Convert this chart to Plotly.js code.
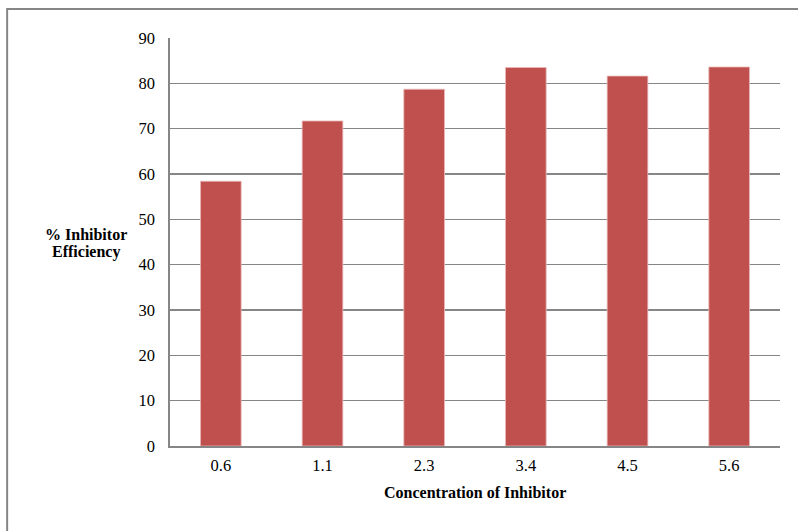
<!DOCTYPE html>
<html>
<head>
<meta charset="utf-8">
<script src="https://cdn.plot.ly/plotly-3.0.1.min.js"></script>
<style>
  html, body { margin: 0; padding: 0; background: #fff; }
  #chart { width: 798px; height: 531px; }
</style>
</head>
<body>
<div id="chart"></div>
<script>
// Inhibitor concentration vs. % inhibition efficiency
const concentrations = ['0.6', '1.1', '2.3', '3.4', '4.5', '5.6'];
const efficiency = [58.4, 71.7, 78.7, 83.5, 81.6, 83.6];
const yTicks = [0, 10, 20, 30, 40, 50, 60, 70, 80, 90];

const serif = '"Liberation Serif", "Times New Roman", serif';
const gridGray = '#868686';

const trace = {
  type: 'bar',
  x: concentrations,
  y: efficiency,
  width: 0.4,
  marker: { color: '#C0504D', line: { color: '#e8b9b7', width: 0.8 } },
  hoverinfo: 'x+y'
};

const titleFont = { family: serif, size: 16, color: '#000' };

const layout = {
  width: 798,
  height: 531,
  margin: { l: 170, r: 18, t: 38, b: 85 },
  paper_bgcolor: '#ffffff',
  plot_bgcolor: '#ffffff',
  showlegend: false,
  font: { family: serif, size: 16.5, color: '#000' },
  xaxis: {
    type: 'category',
    showgrid: false,
    showline: true,
    linecolor: gridGray,
    linewidth: 1.6,
    ticks: '',
    ticklabelstandoff: 4,
    tickfont: { family: serif, size: 16.5, color: '#000' },
    zeroline: false
  },
  yaxis: {
    range: [0, 90],
    tickvals: yTicks,
    showgrid: true,
    gridcolor: gridGray,
    gridwidth: 1.6,
    showline: true,
    linecolor: gridGray,
    linewidth: 1.6,
    ticks: '',
    ticklabelstandoff: 10,
    tickfont: { family: serif, size: 16.5, color: '#000' },
    zeroline: false
  },
  annotations: [
    // y-axis title, two lines set close together
    {
      xref: 'paper', yref: 'paper',
      x: -0.137, y: 0.518,
      xanchor: 'center', yanchor: 'middle',
      showarrow: false,
      text: '<b>% Inhibitor</b>',
      font: titleFont
    },
    {
      xref: 'paper', yref: 'paper',
      x: -0.137, y: 0.475,
      xanchor: 'center', yanchor: 'middle',
      showarrow: false,
      text: '<b>Efficiency</b>',
      font: titleFont
    },
    {
      xref: 'paper', yref: 'paper',
      x: 0.5, y: -0.115,
      xanchor: 'center', yanchor: 'middle',
      showarrow: false,
      text: '<b>Concentration of Inhibitor</b>',
      font: titleFont
    }
  ],
  shapes: [
    // chart frame (left and top edges)
    {
      type: 'path', xref: 'paper', yref: 'paper',
      path: 'M -0.267 -0.21 L -0.267 1.071 L 1.035 1.071',
      line: { color: gridGray, width: 2 }
    }
  ]
};

Plotly.newPlot('chart', [trace], layout, { displayModeBar: false, staticPlot: true });
</script>
</body>
</html>
